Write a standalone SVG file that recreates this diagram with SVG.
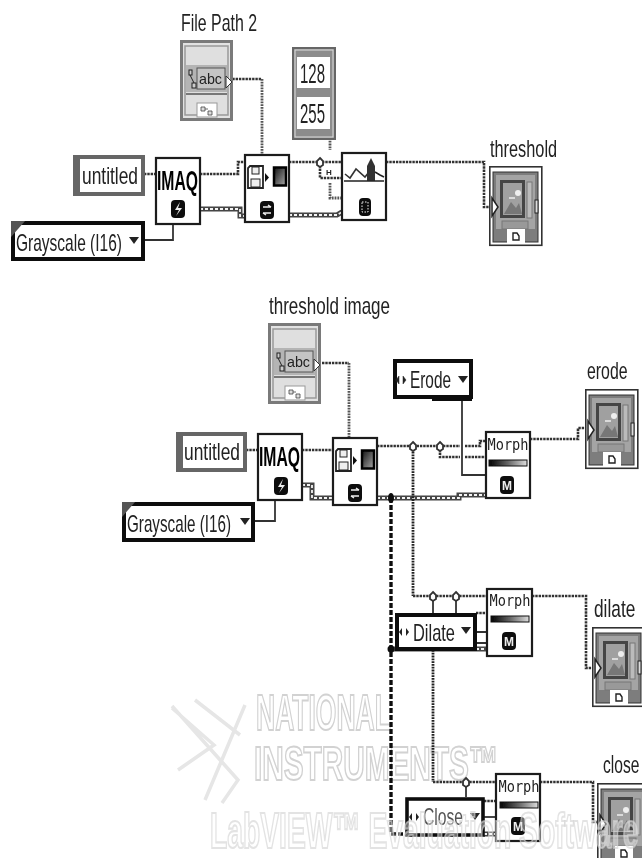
<svg xmlns="http://www.w3.org/2000/svg" width="642" height="858" viewBox="0 0 642 858">
<style>
text{font-family:"Liberation Sans",Arial,sans-serif;fill:#222}
.lb{font-size:24px}
.wave{fill:none;stroke:#333;stroke-width:2.6;stroke-dasharray:2.4 0.9}
.pth{fill:none;stroke:#555;stroke-width:2.8;stroke-dasharray:1.8 1}
.e1{fill:none;stroke:#444;stroke-width:5}
.e2{fill:none;stroke:#f4f4f4;stroke-width:1.8;stroke-dasharray:3 2}
.e3{fill:none;stroke:#111;stroke-width:3.4;stroke-dasharray:5 2}
.thin{fill:none;stroke:#333;stroke-width:1.8}
.vi{fill:#fff;stroke:#1c1c1c;stroke-width:2.2}
.wm{font-weight:bold;fill:#fff;stroke:#d2d2d2;stroke-width:2}
.jn{fill:#fff;stroke:#333;stroke-width:1.8}
</style>
<defs>
<filter id="soft" x="0" y="0" width="100%" height="100%"><feGaussianBlur stdDeviation="0.45"/></filter>
<linearGradient id="gr" x1="0" x2="1" y1="0" y2="1"><stop offset="0" stop-color="#111"/><stop offset="1" stop-color="#aaa"/></linearGradient>
<linearGradient id="gh"><stop offset="0" stop-color="#000"/><stop offset="0.5" stop-color="#666"/><stop offset="1" stop-color="#ddd"/></linearGradient>
<g id="pathctl">
<rect x="1.500" y="1.500" width="50" height="78" fill="#e2e2e2" stroke="#7a7a7a" stroke-width="3"/>
<rect x="5" y="6" width="43" height="69" fill="#dfdfdf" stroke="#999" stroke-width="1.500"/>
<rect x="6" y="25" width="41" height="27" fill="#b4b4b4"/>
<path d="M6 54H47" stroke="#777" stroke-width="2"/>
<rect x="17" y="28" width="28" height="21" fill="#c4c4c4" stroke="#555" stroke-width="1"/>
<text x="19" y="44" font-size="15" textLength="23" lengthAdjust="spacingAndGlyphs">abc</text>
<rect x="9" y="30" width="3" height="5" fill="#ccc" stroke="#222"/><rect x="12" y="43" width="4" height="5" fill="#ccc" stroke="#222"/><path d="M10 35L14 43" stroke="#222"/>
<path d="M46 36L52 42L46 48Z" fill="#fff" stroke="#333"/>
<rect x="17" y="63" width="20" height="14" fill="#fff" stroke="#999"/>
<path d="M21 67h4v4h-4zM28 71h4v4h-4zM25 69h3" fill="#ddd" stroke="#444" stroke-width="0.8"/>
</g>
<g id="imgind">
<rect x="0.800" y="0.800" width="52" height="78.500" fill="#fff" stroke="#333" stroke-width="1.600"/>
<rect x="4" y="6" width="45" height="70" fill="#7d7d7d" stroke="#333" stroke-width="1"/>
<rect x="7" y="9" width="39" height="54" fill="#a4a4a4"/>
<rect x="11" y="14" width="25" height="38" fill="#444"/>
<rect x="14" y="17" width="19" height="32" fill="#a0a0a0"/>
<path d="M15 48L22 36L27 42L30 37L33 48Z" fill="#777"/>
<circle cx="29" cy="27" r="3" fill="#eee"/><path d="M20 32h6" stroke="#eee" stroke-width="1.500"/>
<rect x="38" y="16" width="5" height="36" fill="#bbb" stroke="#777"/>
<rect x="13" y="55" width="26" height="8" fill="#999" stroke="#777"/>
<rect x="18" y="63" width="18" height="15" fill="#fff"/>
<path d="M24 67h4l2 3v4h-6z" fill="#fff" stroke="#222" stroke-width="1.400"/>
<path d="M3 32L9 41L3 50Z" fill="#fff" stroke="#222" stroke-width="1.500"/>
<rect x="46" y="34" width="3" height="13" fill="#ddd" stroke="#222"/>
</g>
<g id="errF"><rect x="-7" y="-9" width="14" height="18" rx="4" fill="#111"/><path d="M2 -7L-3 1H1L-2 7L4 -1H0Z" fill="#eee"/></g>
<g id="errS"><rect x="-7" y="-9" width="14" height="18" rx="4" fill="#111"/><path d="M-4 -3H4M4 -3L1 -5M-4 3H4M-4 3L-1 5" fill="none" stroke="#eee" stroke-width="1.400"/></g>
<g id="errM"><rect x="-7" y="-9" width="14" height="18" rx="4" fill="#111"/><text x="0" y="4.500" font-size="12" text-anchor="middle" style="fill:#eee;font-weight:bold">M</text></g>
<g id="saveIc">
<path d="M2 0H15V22H0V2Z" fill="#fff" stroke="#222" stroke-width="1.800"/>
<rect x="4" y="1" width="7" height="7" fill="#eee" stroke="#222"/><rect x="3" y="13" width="9" height="8" fill="#eee" stroke="#222"/>
<path d="M17 7L21 11.500L17 16Z" fill="#111"/>
<rect x="26" y="1.500" width="12" height="18" fill="url(#gr)" stroke="#000" stroke-width="2.500"/>
</g>
<g id="morphIc">
<text x="1.500" y="18" font-size="15" style="font-family:'DejaVu Sans Mono',monospace" textLength="41" lengthAdjust="spacingAndGlyphs">Morph</text>
<rect x="3" y="28" width="38" height="6" fill="url(#gh)" stroke="#111"/>
</g>
<g id="dd"><path d="M0 0H10L5 7Z" fill="#222"/></g>
<g id="ring"><path d="M0 -4L3 -1V3L0 5L-3 3V-1Z" class="jn"/></g>
</defs>
<rect width="642" height="858" fill="#fff"/>
<g filter="url(#soft)">
<g id="watermark">
<path d="M172 706L238 780L222 803M172 708L214 745L178 770M195 700L240 735M245 705L205 800" fill="none" stroke="#e6e6e6" stroke-width="3.500"/>
<text class="wm" transform="translate(256,730) scale(.53,1)" font-size="50">NATIONAL</text>
<text class="wm" transform="translate(254,780) scale(.62,1)" font-size="48">INSTRUMENTS™</text>
</g>
<g id="connectors">
<path class="wave" d="M229 79H262"/>
<path class="pth" d="M262 79V155"/>
<path class="wave" d="M144 174H156"/>
<path class="wave" d="M200 174H238V162H245"/>
<path class="e1" d="M200 209H240V216H245"/><path class="e2" d="M200 209H240V216H245"/>
<path class="thin" d="M144 240H173V224"/>
<path class="wave" d="M289 162H342"/>
<path class="wave" d="M320 162V178H342"/>
<path class="pth" d="M330 138V150M330 183V198H342"/>
<text x="326" y="175" font-size="8" font-weight="bold">H</text>
<path class="e1" d="M289 215H337L342 212"/><path class="e2" d="M289 215H337L342 212"/>
<path class="wave" d="M386 162H484V207H491"/>

<path class="wave" d="M322 363H349"/>
<path class="pth" d="M349 363V438"/>
<path class="wave" d="M246 450H258"/>
<path class="wave" d="M302 450H333"/>
<path class="e1" d="M302 485H312V498H333"/><path class="e2" d="M302 485H312V498H333"/>
<path class="thin" d="M254 521H275V500"/>
<path class="wave" d="M377 446H460M465 446H480V441H486"/>
<path class="wave" d="M440 446V457H460M465 457H486"/>
<path class="thin" d="M462 399V475H486"/>
<path class="e1" d="M377 498H459V495H486"/><path class="e2" d="M377 498H459V495H486"/>
<path class="wave" d="M530 439H578V428H585"/>
<path class="e3" d="M391 498V834H406"/>
<path class="pth" d="M413 446V596" style="stroke:#222"/>
<path class="wave" d="M413 596H487"/>
<path class="e1" d="M391 649H487"/><path class="e2" d="M391 649H487"/>
<path class="thin" d="M476 632H487M476 643H487"/>
<path class="wave" d="M476 613H487"/>
<path class="thin" d="M456 596V613"/>
<path class="thin" d="M433 596V613"/>
<path class="pth" d="M433 650V782" style="stroke:#222"/>
<path class="wave" d="M433 782H496"/>
<path class="thin" d="M466 782V797"/>
<path class="wave" d="M532 596H586V668H594"/>
<path class="wave" d="M484 801H496"/>
<path class="thin" d="M484 817H496"/>
<path class="e1" d="M484 834H496"/><path class="e2" d="M484 834H496"/>
<path class="wave" d="M540 782H593V822H600"/>
<use href="#ring" x="320" y="162"/>
<use href="#ring" x="413" y="446"/>
<use href="#ring" x="440" y="446"/>
<use href="#ring" x="433" y="596"/>
<use href="#ring" x="456" y="596"/>
<use href="#ring" x="466" y="782"/>
<ellipse cx="391" cy="498" rx="3" ry="5" fill="#111"/>
<circle cx="391" cy="649" r="3.500" fill="#111"/>
</g>

<g id="label-file-path"><text class="lb" x="181" y="31" textLength="76" lengthAdjust="spacingAndGlyphs">File Path 2</text></g>
<use id="file-path-2" href="#pathctl" x="180" y="40"/>
<g id="const-top">
<rect x="293" y="48" width="42" height="91" fill="#8c8c8c" stroke="#666" stroke-width="2"/>
<rect x="295" y="50" width="38" height="87" fill="none" stroke="#ddd" stroke-width="1"/>
<rect x="297" y="57" width="33" height="31" fill="#fff"/><rect x="297" y="97" width="33" height="32" fill="#fff"/>
<text x="300" y="83" font-size="28" textLength="25" lengthAdjust="spacingAndGlyphs">128</text>
<text x="300" y="123" font-size="28" textLength="25" lengthAdjust="spacingAndGlyphs">255</text>
</g>
<g id="untitled-top">
<rect x="75" y="157" width="68" height="37" fill="#fff" stroke="#666" stroke-width="4"/>
<rect x="74" y="156" width="6" height="38" fill="#666"/>
<text class="lb" x="82" y="184" textLength="56" lengthAdjust="spacingAndGlyphs">untitled</text>
</g>
<g id="imaq-top">
<rect class="vi" x="156" y="158" width="44" height="66"/>
<text x="157" y="190" font-size="27" style="font-weight:bold;fill:#000" textLength="41" lengthAdjust="spacingAndGlyphs">IMAQ</text>
<use href="#errF" x="178" y="209"/>
</g>
<g id="grayscale-top">
<rect x="13" y="223" width="130" height="36" fill="#fff" stroke="#111" stroke-width="4"/>
<path d="M11 221H25L11 237Z" fill="#555"/>
<text class="lb" x="16" y="251" textLength="106" lengthAdjust="spacingAndGlyphs">Grayscale (I16)</text>
<use href="#dd" x="129" y="237"/>
</g>
<g id="save-top">
<rect class="vi" x="245" y="155" width="44" height="67"/>
<use href="#saveIc" x="248" y="166"/>
<use href="#errS" x="267" y="210"/>
</g>
<g id="threshold-vi">
<rect class="vi" x="342" y="153" width="44" height="67"/>
<path d="M345 174L350 178L356 169L365 177L369 172" fill="none" stroke="#333" stroke-width="1.600"/>
<path d="M367 181V166L371 158L375 166V181Z" fill="#333"/>
<path d="M375 172L380 175L384 177M344 181H384" fill="none" stroke="#222" stroke-width="1.600"/>
<rect x="359" y="198" width="12" height="18" rx="4" fill="#111"/><path d="M362 202h6v10h-6z" fill="none" stroke="#eee" stroke-dasharray="1.500 1.500"/>
</g>
<g id="label-threshold"><text class="lb" transform="translate(490,157) scale(.68,1)">threshold</text></g>
<use id="threshold" href="#imgind" x="489" y="166"/>

<g id="label-threshold-image"><text class="lb" x="269" y="314" textLength="121" lengthAdjust="spacingAndGlyphs">threshold image</text></g>
<use id="threshold-image" href="#pathctl" x="268" y="323"/>
<g id="untitled-bottom">
<rect x="178" y="434" width="67" height="36" fill="#fff" stroke="#666" stroke-width="4"/>
<rect x="176" y="433" width="7" height="38" fill="#666"/>
<text class="lb" x="184" y="460" textLength="56" lengthAdjust="spacingAndGlyphs">untitled</text>
</g>
<g id="imaq-bottom">
<rect class="vi" x="258" y="434" width="44" height="66"/>
<text x="259" y="466" font-size="27" style="font-weight:bold;fill:#000" textLength="41" lengthAdjust="spacingAndGlyphs">IMAQ</text>
<use href="#errF" x="281" y="486"/>
</g>
<g id="grayscale-bottom">
<rect x="124" y="504" width="129" height="36" fill="#fff" stroke="#111" stroke-width="4"/>
<path d="M122 502H135L122 517Z" fill="#555"/>
<text class="lb" x="127" y="532" textLength="104" lengthAdjust="spacingAndGlyphs">Grayscale (I16)</text>
<use href="#dd" x="240" y="518"/>
</g>
<g id="save-bottom">
<rect class="vi" x="333" y="438" width="44" height="67"/>
<use href="#saveIc" x="336" y="449"/>
<use href="#errS" x="355" y="493"/>
</g>
<g id="erode-const">
<rect x="395" y="361" width="76" height="36" fill="#fff" stroke="#111" stroke-width="4"/>
<rect x="432" y="396" width="40" height="5" fill="#111"/>
<path d="M399 376L396 380L399 384ZM403 376L406 380L403 384Z" fill="#222" stroke="#222" stroke-width="0.500"/>
<text class="lb" x="410" y="388" textLength="41" lengthAdjust="spacingAndGlyphs">Erode</text>
<use href="#dd" x="458" y="376"/>
</g>
<g id="morph-erode">
<rect class="vi" x="486" y="432" width="44" height="66"/>
<use href="#morphIc" x="486" y="432"/>
<use href="#errM" x="507" y="485"/>
</g>
<g id="label-erode"><text class="lb" transform="translate(587,379) scale(.66,1)">erode</text></g>
<use id="erode" href="#imgind" x="585" y="389"/>
<g id="dilate-const">
<rect x="397" y="615" width="78" height="34" fill="#fff" stroke="#111" stroke-width="4"/>
<path d="M402 628L399 632L402 636ZM406 628L409 632L406 636Z" fill="#222"/>
<text class="lb" x="413" y="641" textLength="42" lengthAdjust="spacingAndGlyphs">Dilate</text>
<use href="#dd" x="461" y="627"/>
</g>
<g id="morph-dilate">
<rect class="vi" x="487" y="589" width="45" height="67"/>
<use href="#morphIc" x="488" y="588"/>
<use href="#errM" x="509" y="641"/>
</g>
<g id="label-dilate"><text class="lb" transform="translate(594,617) scale(.72,1)">dilate</text></g>
<use id="dilate" href="#imgind" x="592" y="627"/>
<g id="close-const">
<rect x="407" y="799" width="76" height="36" fill="#fff" stroke="#111" stroke-width="3.600"/>
<path d="M412 813L409 817L412 821ZM416 813L419 817L416 821Z" fill="#222"/>
<text class="lb" x="423" y="825" textLength="40" lengthAdjust="spacingAndGlyphs" style="fill:#555">Close</text>
<use href="#dd" x="470" y="813"/>
</g>
<g id="morph-close">
<rect class="vi" x="496" y="774" width="44" height="67"/>
<use href="#morphIc" x="497" y="774"/>
<use href="#errM" x="518" y="826"/>
</g>
<g id="label-close"><text class="lb" transform="translate(603,773) scale(.65,1)">close</text></g>
<use id="close" href="#imgind" x="597" y="783"/>
<g id="watermark-line"><text transform="translate(210,848) scale(.565,1)" font-size="50" font-weight="bold" style="fill:#fff;fill-opacity:.4;stroke:#d4d4d4;stroke-width:2.200;stroke-opacity:.65">LabVIEW™ Evaluation Software</text></g>
</g>
</svg>
